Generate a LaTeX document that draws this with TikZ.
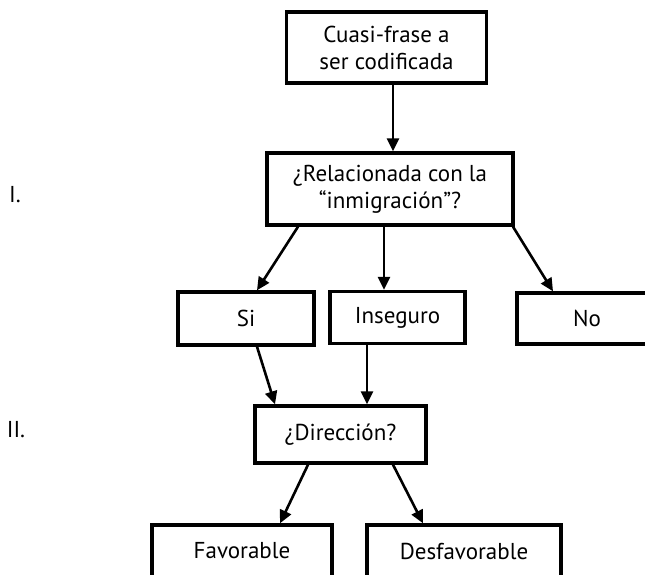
\documentclass[tikz,border=0pt]{standalone}
\usepackage{fontspec}
\setmainfont{PT Sans}
\usetikzlibrary{arrows.meta}
\begin{document}
\begin{tikzpicture}[x=1pt,y=-1pt,
  box/.style={draw=black,line width=3.4pt,fill=white,inner sep=0pt,align=center,
    font=\fontsize{23}{27}\selectfont},
  arr/.style={line width=2.6pt,-{Triangle[length=13pt,width=12pt]}},
  lbl/.style={font=\fontsize{23}{27}\selectfont}]
\useasboundingbox (0,0) rectangle (645,574);
\clip (0,0) rectangle (645,574);
\node[box,minimum width=200pt,minimum height=71pt] (top) at (386.5,47.5) {Cuasi-frase a\\ser codificada};
\node[box,minimum width=246pt,minimum height=72pt] (q1) at (390,189) {¿Relacionada con la\\“inmigración”?};
\node[box,minimum width=136pt,minimum height=53pt] (si) at (246,318.5) {Si};
\node[box,minimum width=135pt,minimum height=52pt] (ins) at (397.5,317.5) {Inseguro};
\node[box,minimum width=140pt,minimum height=51pt] (no) at (587,318.5) {No};
\node[box,minimum width=171pt,minimum height=57pt] (dir) at (340.5,434.5) {¿Dirección?};
\node[box,minimum width=180pt,minimum height=52pt] (fav) at (242,551) {Favorable};
\node[box,minimum width=194pt,minimum height=52pt] (des) at (464,551) {Desfavorable};
\node[lbl] (l1) at (15,195) {I.};
\node[lbl] (l2) at (16,430) {II.};
\draw[arr] ([xshift=6.5pt]top.south) -- ([xshift=3pt]q1.north);
\draw[arr] ([xshift=-92pt]q1.south) -- ([xshift=11pt]si.north);
\draw[arr] ([xshift=-6pt]q1.south) -- ([xshift=-13.5pt]ins.north);
\draw[arr] ([xshift=123pt]q1.south) -- ([xshift=-34pt]no.north);
\draw[arr] ([xshift=11pt]si.south) -- ([xshift=-65.5pt]dir.north);
\draw[arr] ([xshift=-30.5pt]ins.south) -- ([xshift=26.5pt]dir.north);
\draw[arr] ([xshift=-32.5pt]dir.south) -- ([xshift=38pt]fav.north);
\draw[arr] ([xshift=52.5pt]dir.south) -- ([xshift=-41pt]des.north);
\end{tikzpicture}
\end{document}
